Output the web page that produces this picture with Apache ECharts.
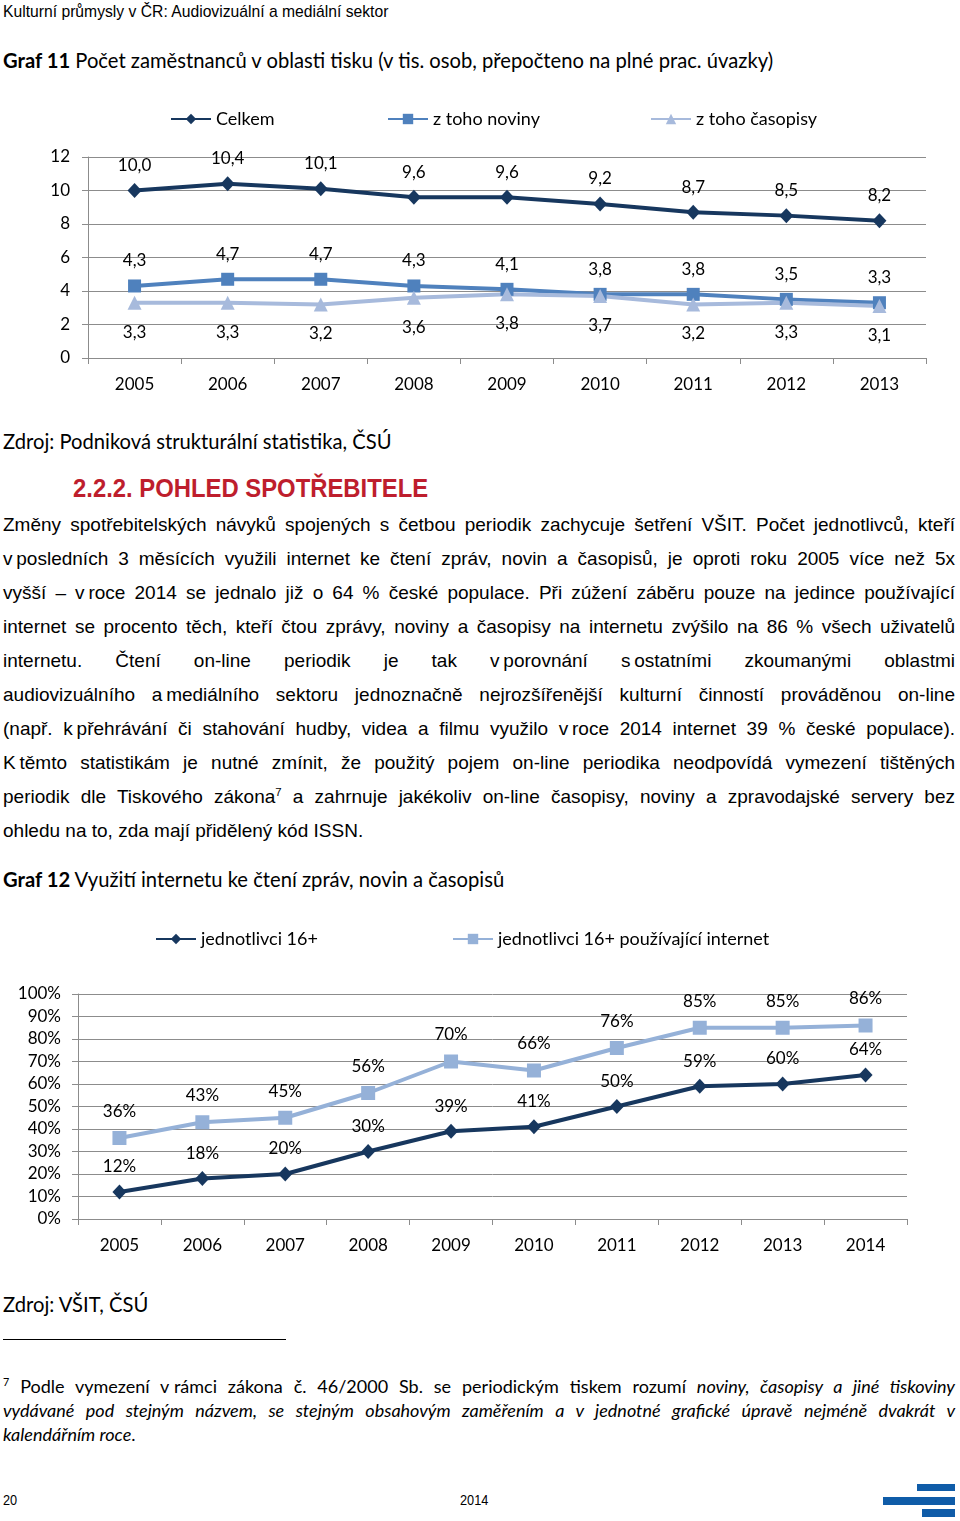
<!DOCTYPE html>
<html>
<head>
<meta charset="utf-8">
<script src="https://cdn.jsdelivr.net/npm/echarts@6/dist/echarts.min.js"></script>
<style>
  html, body { margin:0; padding:0; background:#fff; }
  body { width:960px; height:1521px; position:relative; overflow:hidden; color:#000; }
  .abs { position:absolute; white-space:nowrap; }
  .hdr { font-family:"Liberation Sans", Arial, sans-serif; font-size:15.7px; }
  .ftr { font-family:"Liberation Sans", Arial, sans-serif; font-size:15px; transform:scaleX(0.85); transform-origin:left top; }
  .cal { font-family:Lato, "Open Sans", sans-serif; font-size:20.2px; }
  .sec { font-family:"Liberation Sans", Arial, sans-serif; font-weight:bold; font-size:26.5px; color:#BE1E2D; transform:scaleX(0.9); transform-origin:left top; }
  #body { position:absolute; left:3px; top:508px; width:952px; font-family:"Liberation Sans", Arial, sans-serif; font-size:19px; line-height:34px; }
  #body div { text-align:justify; text-align-last:justify; height:34px; }
  #body div.last { text-align-last:left; }
  #foot { position:absolute; left:3px; top:1374px; width:952px; font-family:Lato, "Open Sans", sans-serif; font-size:18px; line-height:24px; }
  #foot div { text-align:justify; text-align-last:justify; height:24px; }
  #foot div.last { text-align-last:left; }
  sup { font-size:60%; line-height:0; vertical-align:super; }
  .chart { position:absolute; left:0; width:960px; }
</style>
</head>
<body>
<div class="abs hdr" style="left:3px; top:3px;">Kulturní průmysly v ČR: Audiovizuální a mediální sektor</div>
<div class="abs cal" style="left:3px; top:48px;"><b>Graf 11</b> Počet zaměstnanců v oblasti tisku (v tis. osob, přepočteno na plné prac. úvazky)</div>

<div id="c1" class="chart" style="top:95px; height:310px;"></div>

<div class="abs cal" style="left:3px; top:429px;">Zdroj: Podniková strukturální statistika, ČSÚ</div>
<div class="abs sec" style="left:73px; top:473px;">2.2.2. POHLED SPOTŘEBITELE</div>

<div id="body">
<div>Změny spotřebitelských návyků spojených s četbou periodik zachycuje šetření VŠIT. Počet jednotlivců, kteří</div>
<div>v&#8239;posledních 3 měsících využili internet ke čtení zpráv, novin a časopisů, je oproti roku 2005 více než 5x</div>
<div>vyšší – v&#8239;roce 2014 se jednalo již o 64 % české populace. Při zúžení záběru pouze na jedince používající</div>
<div>internet se procento těch, kteří čtou zprávy, noviny a časopisy na internetu zvýšilo na 86 % všech uživatelů</div>
<div>internetu. Čtení on-line periodik je tak v&#8239;porovnání s&#8239;ostatními zkoumanými oblastmi</div>
<div>audiovizuálního a&#8239;mediálního sektoru jednoznačně nejrozšířenější kulturní činností prováděnou on-line</div>
<div>(např. k&#8239;přehrávání či stahování hudby, videa a filmu využilo v&#8239;roce 2014 internet 39 % české populace).</div>
<div>K&#8239;těmto statistikám je nutné zmínit, že použitý pojem on-line periodika neodpovídá vymezení tištěných</div>
<div>periodik dle Tiskového zákona<sup>7</sup> a zahrnuje jakékoliv on-line časopisy, noviny a zpravodajské servery bez</div>
<div class="last">ohledu na to, zda mají přidělený kód ISSN.</div>
</div>

<div class="abs cal" style="left:3px; top:867px;"><b>Graf 12</b> Využití internetu ke čtení zpráv, novin a časopisů</div>

<div id="c2" class="chart" style="top:920px; height:350px;"></div>

<div class="abs cal" style="left:3px; top:1292px;">Zdroj: VŠIT, ČSÚ</div>
<div class="abs" style="left:3px; top:1339px; width:283px; height:1px; background:#000;"></div>

<div id="foot">
<div><sup>7</sup> Podle vymezení v&#8239;rámci zákona č. 46/2000 Sb. se periodickým tiskem rozumí <i>noviny, časopisy a jiné tiskoviny</i></div>
<div><i>vydávané pod stejným názvem, se stejným obsahovým zaměřením a v jednotné grafické úpravě nejméně dvakrát v</i></div>
<div class="last"><i>kalendářním roce</i>.</div>
</div>

<div class="abs ftr" style="left:3px; top:1491px;">20</div>
<div class="abs ftr" style="left:460px; top:1491px;">2014</div>
<div class="abs" style="left:917px; top:1484px; width:38px; height:7px; background:#0F5CA8;"></div>
<div class="abs" style="left:883px; top:1497px; width:72px; height:8px; background:#0F5CA8;"></div>
<div class="abs" style="left:922px; top:1509px; width:33px; height:8px; background:#0F5CA8;"></div>

<script>
// ---- Graf 11 data ----
const years1 = ['2005','2006','2007','2008','2009','2010','2011','2012','2013'];
const celkem = [10.0, 10.4, 10.1, 9.6, 9.6, 9.2, 8.7, 8.5, 8.2];
const noviny = [4.3, 4.7, 4.7, 4.3, 4.1, 3.8, 3.8, 3.5, 3.3];
const casopisy = [3.3, 3.3, 3.2, 3.6, 3.8, 3.7, 3.2, 3.3, 3.1];
const names1 = ['Celkem', 'z toho noviny', 'z toho časopisy'];

// ---- Graf 12 data ----
const years2 = ['2005','2006','2007','2008','2009','2010','2011','2012','2013','2014'];
const jednotlivci = [12, 18, 20, 30, 39, 41, 50, 59, 60, 64];
const internetUsers = [36, 43, 45, 56, 70, 66, 76, 85, 85, 86];
const names2 = ['jednotlivci 16+', 'jednotlivci 16+ používající internet'];

const FONT = 'Lato, "Open Sans", sans-serif';
const GRID = '#8C8C8C';
const C_DARK = '#17375E', C_MID = '#4F81BD', C_LIGHT = '#A7BADC', C_LIGHT2 = '#95B1D8';
const comma = p => p.value.toFixed(1).replace('.', ',');

function catAxis(data){
  return {
    type:'category', data:data, boundaryGap:true,
    axisLine:{lineStyle:{color:GRID, width:1}},
    axisTick:{show:true, length:6, lineStyle:{color:GRID}},
    axisLabel:{color:'#000', fontSize:17, fontFamily:FONT, margin:18}
  };
}
function valAxis(min, max, interval, fmt, margin){
  return {
    type:'value', min:min, max:max, interval:interval,
    axisLine:{show:true, lineStyle:{color:GRID, width:1}},
    axisTick:{show:true, length:6, lineStyle:{color:GRID}},
    splitLine:{lineStyle:{color:GRID, width:1}},
    axisLabel:{color:'#000', fontSize:17, fontFamily:FONT, margin:margin, formatter:fmt}
  };
}
function legendItem(name, left, top){
  return {data:[name], left:left, top:top, padding:0, itemWidth:40, itemHeight:13,
    textStyle:{fontSize:18, fontFamily:FONT, color:'#000'}, selectedMode:false};
}

const c1 = echarts.init(document.getElementById('c1'), null, {renderer:'canvas'});
c1.setOption({
  animation:false,
  legend:[legendItem(names1[0],170,15), legendItem(names1[1],387,15), legendItem(names1[2],650,15)],
  grid:{left:88, right:34, top:62, bottom:47},
  xAxis:catAxis(years1),
  yAxis:valAxis(0,12,2,'{value}',18),
  series:[
    {name:names1[0], type:'line', data:celkem, symbol:'diamond', symbolSize:[14,15],
     itemStyle:{color:C_DARK}, lineStyle:{color:C_DARK, width:4},
     label:{show:true, position:'top', distance:9, formatter:comma, fontSize:17, fontFamily:FONT, color:'#000'}},
    {name:names1[1], type:'line', data:noviny, symbol:'rect', symbolSize:13,
     itemStyle:{color:C_MID}, lineStyle:{color:C_MID, width:4},
     label:{show:true, position:'top', distance:10, formatter:comma, fontSize:17, fontFamily:FONT, color:'#000'}},
    {name:names1[2], type:'line', data:casopisy, symbol:'triangle', symbolSize:14,
     itemStyle:{color:C_LIGHT}, lineStyle:{color:C_LIGHT, width:4},
     label:{show:true, position:'bottom', distance:14, formatter:comma, fontSize:17, fontFamily:FONT, color:'#000'}}
  ]
});

const c2 = echarts.init(document.getElementById('c2'), null, {renderer:'canvas'});
const pct = p => p.value + '%';
c2.setOption({
  animation:false,
  legend:[legendItem(names2[0],155,10), legendItem(names2[1],452,10)],
  grid:{left:78, right:53, top:74, bottom:51},
  xAxis:catAxis(years2),
  yAxis:valAxis(0,100,10,'{value}%',17),
  series:[
    {name:names2[0], type:'line', data:jednotlivci, symbol:'diamond', symbolSize:[14,15],
     itemStyle:{color:C_DARK}, lineStyle:{color:C_DARK, width:4},
     label:{show:true, position:'top', distance:9, formatter:pct, fontSize:17, fontFamily:FONT, color:'#000'}},
    {name:names2[1], type:'line', data:internetUsers, symbol:'rect', symbolSize:14,
     itemStyle:{color:C_LIGHT2}, lineStyle:{color:C_LIGHT2, width:4},
     label:{show:true, position:'top', distance:11, formatter:pct, fontSize:17, fontFamily:FONT, color:'#000'}}
  ]
});
</script>
</body>
</html>
